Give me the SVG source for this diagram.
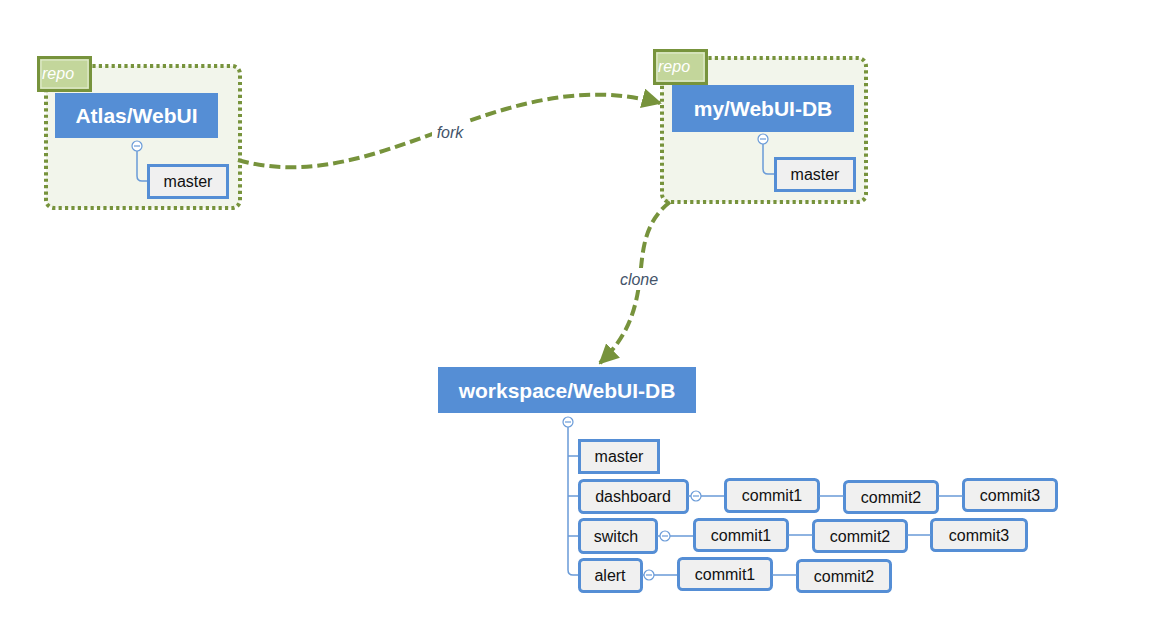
<svg xmlns="http://www.w3.org/2000/svg" width="1161" height="636" viewBox="0 0 1161 636">
<defs>
<style>
.cont{fill:#f2f5eb;stroke:#77933c;stroke-width:4;stroke-dasharray:3.2 3.2}
.tag{fill:#c3d69b;stroke:#77933c;stroke-width:3}
.tagin{fill:none;stroke:#e6eed6;stroke-width:1}
.tagt{font-family:"Liberation Sans",Arial,sans-serif;font-style:italic;font-size:16px;fill:#ffffff}
.main{fill:#558ed5}
.maint{font-family:"Liberation Sans",Arial,sans-serif;font-weight:bold;font-size:21px;fill:#ffffff;text-anchor:middle}
.br{fill:#f0f0f0;stroke:#558ed5;stroke-width:3}
.brt{font-family:"Liberation Sans",Arial,sans-serif;font-size:16px;fill:#111111;text-anchor:middle}
.ln{fill:none;stroke:#6a9bd8;stroke-width:1.5}
.cir{fill:#ffffff;stroke:#6a9bd8;stroke-width:1.2}
.minus{stroke:#6a9bd8;stroke-width:1.2}
.flow{fill:none;stroke:#77933c;stroke-width:4;stroke-dasharray:11 5}
.lbl{font-family:"Liberation Sans",Arial,sans-serif;font-style:italic;font-size:16px;fill:#44546a;text-anchor:middle}
</style>
<marker id="ah" viewBox="0 0 10 10" refX="9" refY="5" markerWidth="5" markerHeight="5" markerUnits="strokeWidth" orient="auto">
<path d="M0,0 L10,5 L0,10 z" fill="#77933c"/>
</marker>
</defs>
<rect width="1161" height="636" fill="#ffffff"/>

<g id="repo-atlas">
<rect class="cont" x="46" y="66" width="194" height="142" rx="8"/>
<rect class="tag" x="38.5" y="57.5" width="52" height="33"/>
<rect class="tagin" x="41" y="60" width="47" height="28"/>
<text class="tagt" x="42" y="79">repo</text>
</g>
<g id="atlas-webui">
<rect class="main" x="55" y="93" width="163" height="45"/>
<text class="maint" x="136.5" y="123">Atlas/WebUI</text>
</g>
<g id="atlas-master">
<path class="ln" d="M137,151 V176 Q137,181 142,181 H148"/>
<circle class="cir" cx="137" cy="146" r="5"/>
<line class="minus" x1="134" y1="146" x2="140" y2="146"/>
<rect class="br" x="148.5" y="165.5" width="79" height="32"/>
<text class="brt" x="188" y="187">master</text>
</g>

<g id="repo-my">
<rect class="cont" x="662" y="58" width="204" height="144" rx="8"/>
<rect class="tag" x="654.5" y="50.5" width="52" height="33"/>
<rect class="tagin" x="657" y="53" width="47" height="28"/>
<text class="tagt" x="658" y="72">repo</text>
</g>
<g id="my-webui-db">
<rect class="main" x="672" y="85" width="182" height="47"/>
<text class="maint" x="763" y="116">my/WebUI-DB</text>
</g>
<g id="my-master">
<path class="ln" d="M763,144 V169 Q763,174 768,174 H775"/>
<circle class="cir" cx="763" cy="139" r="5"/>
<line class="minus" x1="760" y1="139" x2="766" y2="139"/>
<rect class="br" x="775.5" y="158.5" width="79" height="32"/>
<text class="brt" x="815" y="180">master</text>
</g>

<g id="workspace">
<rect class="main" x="438" y="367" width="258" height="46"/>
<text class="maint" x="567" y="398">workspace/WebUI-DB</text>
<path class="ln" d="M568,427 V570 Q568,575 573,575 H579 M568,456 H579 M568,496 H579 M568,536 H579"/>
<circle class="cir" cx="568" cy="422" r="5"/>
<line class="minus" x1="565" y1="422" x2="571" y2="422"/>
</g>

<g id="ws-master">
<rect class="br" x="579.5" y="440.5" width="79" height="32"/>
<text class="brt" x="619" y="462">master</text>
</g>

<g id="ws-dashboard">
<rect class="br" x="579.5" y="480.5" width="108" height="32" rx="4"/>
<text class="brt" x="633" y="502">dashboard</text>
<path class="ln" d="M688,496 H691 M701,496 H725"/>
<circle class="cir" cx="696" cy="496" r="5"/>
<line class="minus" x1="693" y1="496" x2="699" y2="496"/>
</g>
<g id="d-commit1"><rect class="br" x="725.5" y="479.5" width="93" height="32" rx="4"/><text class="brt" x="772" y="501">commit1</text></g>
<g id="d-commit2"><rect class="br" x="844.5" y="481.5" width="93" height="31" rx="4"/><text class="brt" x="891" y="503">commit2</text></g>
<g id="d-commit3"><rect class="br" x="963.5" y="479.5" width="93" height="31" rx="4"/><text class="brt" x="1010" y="501">commit3</text></g>

<g id="ws-switch">
<rect class="br" x="579.5" y="519.5" width="77" height="33" rx="4"/>
<text class="brt" x="616" y="542">switch</text>
<path class="ln" d="M657,536 H660 M670,536 H694"/>
<circle class="cir" cx="665" cy="536" r="5"/>
<line class="minus" x1="662" y1="536" x2="668" y2="536"/>
</g>
<g id="s-commit1"><rect class="br" x="694.5" y="519.5" width="93" height="31" rx="4"/><text class="brt" x="741" y="541">commit1</text></g>
<g id="s-commit2"><rect class="br" x="813.5" y="520.5" width="93" height="31" rx="4"/><text class="brt" x="860" y="542">commit2</text></g>
<g id="s-commit3"><rect class="br" x="931.5" y="519.5" width="95" height="31" rx="4"/><text class="brt" x="979" y="541">commit3</text></g>

<g id="ws-alert">
<rect class="br" x="579.5" y="559.5" width="62" height="32" rx="4"/>
<text class="brt" x="610" y="581">alert</text>
<path class="ln" d="M642,575 H644 M654,575 H678"/>
<circle class="cir" cx="649" cy="575" r="5"/>
<line class="minus" x1="646" y1="575" x2="652" y2="575"/>
</g>
<g id="a-commit1"><rect class="br" x="678.5" y="558.5" width="93" height="31" rx="4"/><text class="brt" x="725" y="580">commit1</text></g>
<g id="a-commit2"><rect class="br" x="797.5" y="560.5" width="93" height="31" rx="4"/><text class="brt" x="844" y="582">commit2</text></g>

<g id="connectors">
<g class="rowlinks">
<path class="ln" d="M819,496 H844 M938,496 H963 M788,535 H813 M907,535 H931 M772,575 H797"/>
</g>
<path class="flow" d="M238,160 C380,200 500,60 660,103" marker-end="url(#ah)"/>
<rect x="432" y="120" width="36" height="22" fill="#ffffff"/>
<text class="lbl" x="450" y="138">fork</text>
<path class="flow" d="M670,202 C640,225 643,260 639,285 C634,320 622,342 600,363" marker-end="url(#ah)"/>
<rect x="616" y="268" width="46" height="22" fill="#ffffff"/>
<text class="lbl" x="639" y="285">clone</text>
</g>
</svg>
